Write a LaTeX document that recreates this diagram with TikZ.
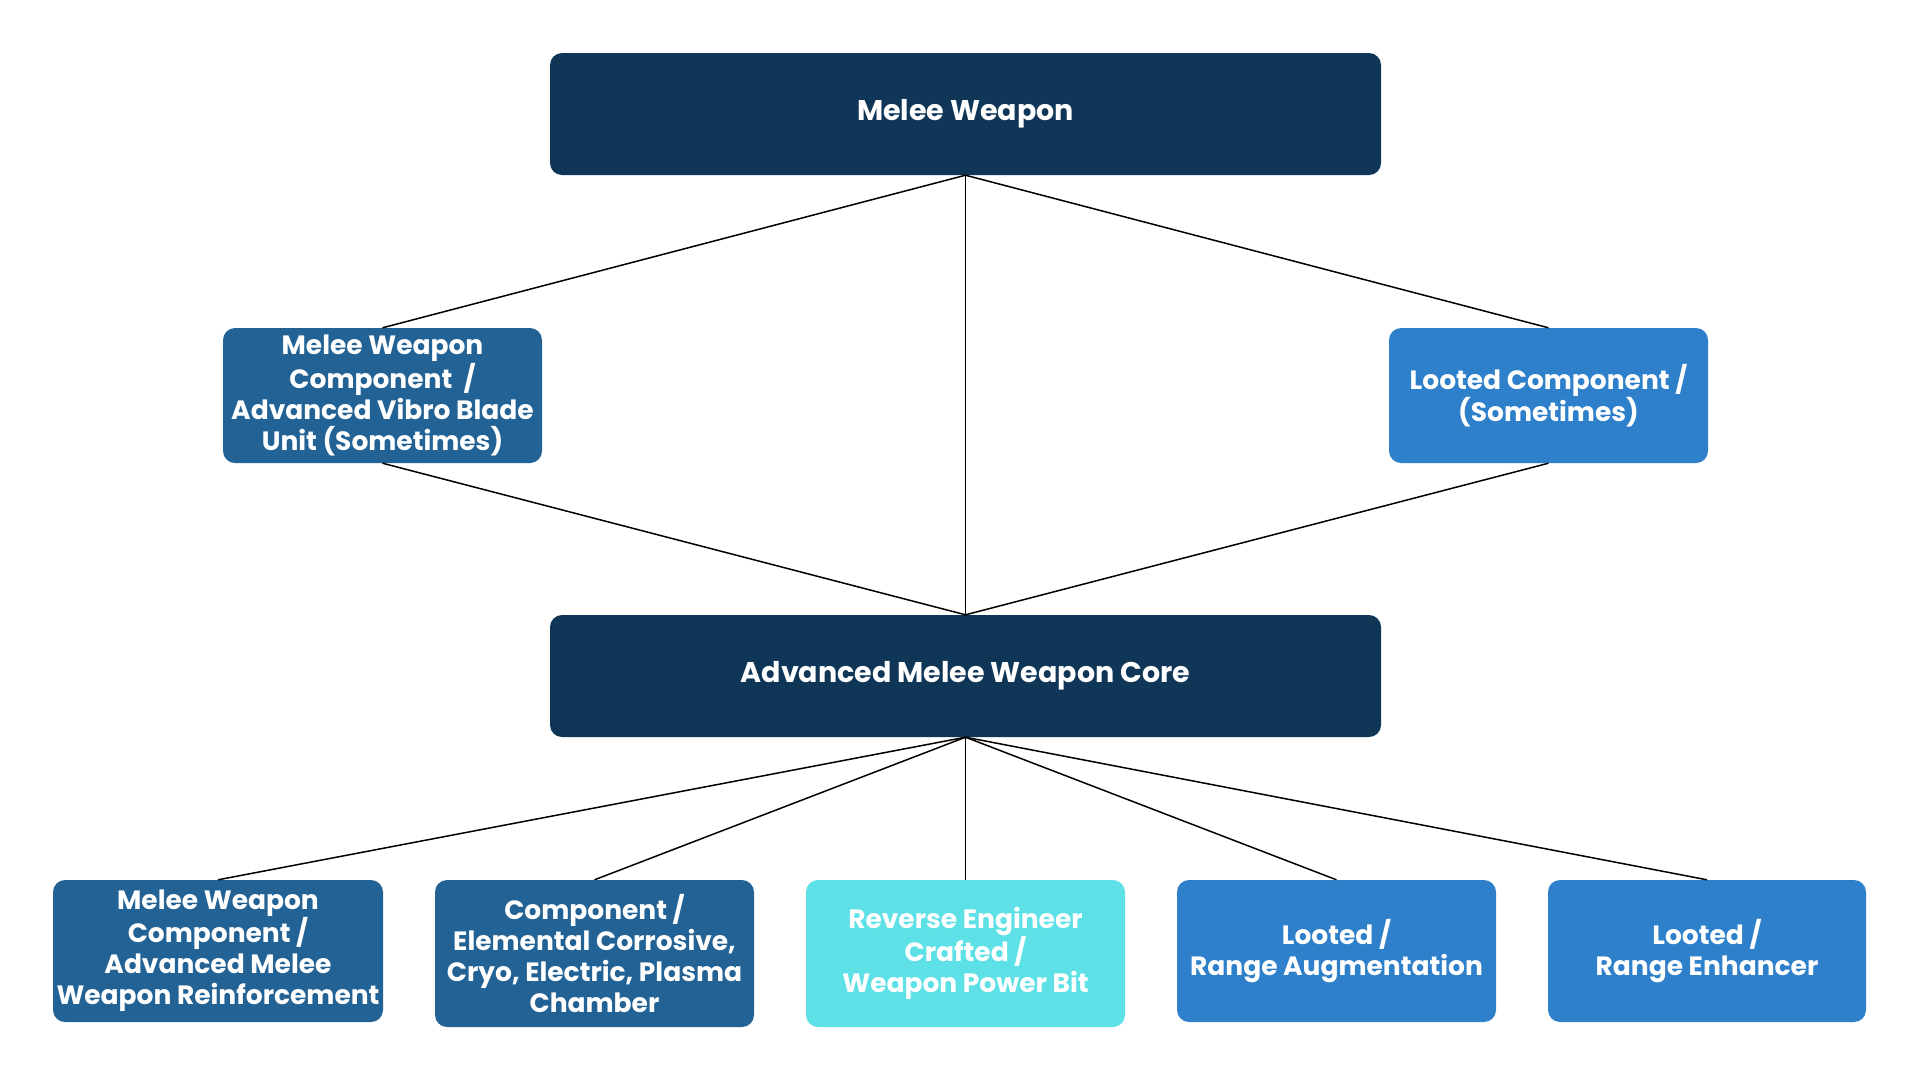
\documentclass[tikz,border=0pt]{standalone}
\usepackage{fontspec}
\setmainfont{Poppins}
\definecolor{navy}{HTML}{0F3657}
\definecolor{steel}{HTML}{236294}
\definecolor{azure}{HTML}{2F80CA}
\definecolor{aqua}{HTML}{5DE0E6}
\tikzset{
  box/.style={rounded corners=12pt,text=white,align=center,inner sep=0pt,
    font=\bfseries\fontsize{26.5}{31}\selectfont},
  bigbox/.style={box,fill=navy,minimum width=831pt,minimum height=122pt,
    font=\bfseries\fontsize{28.5}{33}\selectfont},
  link/.style={line width=1.5pt,black}
}
\begin{document}
\begin{tikzpicture}[x=1pt,y=-1pt]
\useasboundingbox[fill=white] (0,0) rectangle (1920,1080);
% top row
\node[bigbox] (weapon) at (965.5,114) {Melee Weapon};
% middle row
\node[box,fill=steel,minimum width=319pt,minimum height=135pt] (vibro) at (382.5,395.5) {Melee Weapon\\Component\ \ /\\Advanced Vibro Blade\\Unit (Sometimes)};
\node[box,fill=azure,minimum width=319pt,minimum height=135pt] (looted) at (1548.5,395.5) {Looted Component /\\(Sometimes)};
\node[bigbox] (core) at (965.5,676) {Advanced Melee Weapon Core};
% bottom row
\node[box,fill=steel,minimum width=330pt,minimum height=142pt] (reinf) at (218,951) {Melee Weapon\\Component /\\Advanced Melee\\Weapon Reinforcement};
\node[box,fill=steel,minimum width=319pt,minimum height=147pt] (chamber) at (594.5,953.5) {Component /\\Elemental Corrosive,\\Cryo, Electric, Plasma\\Chamber};
\node[box,fill=aqua,minimum width=319pt,minimum height=147pt] (power) at (965.5,953.5) {Reverse Engineer\\Crafted /\\Weapon Power Bit};
\node[box,fill=azure,minimum width=319pt,minimum height=142pt] (augment) at (1336.5,951) {Looted /\\Range Augmentation};
\node[box,fill=azure,minimum width=318pt,minimum height=142pt] (enhance) at (1707,951) {Looted /\\Range Enhancer};
% connectors
\draw[link] (weapon.south) -- (vibro.north);
\draw[link] (weapon.south) -- (core.north);
\draw[link] (weapon.south) -- (looted.north);
\draw[link] (vibro.south) -- (core.north);
\draw[link] (looted.south) -- (core.north);
\foreach \n in {reinf,chamber,power,augment,enhance}
  \draw[link] (core.south) -- (\n.north);
\end{tikzpicture}
\end{document}
